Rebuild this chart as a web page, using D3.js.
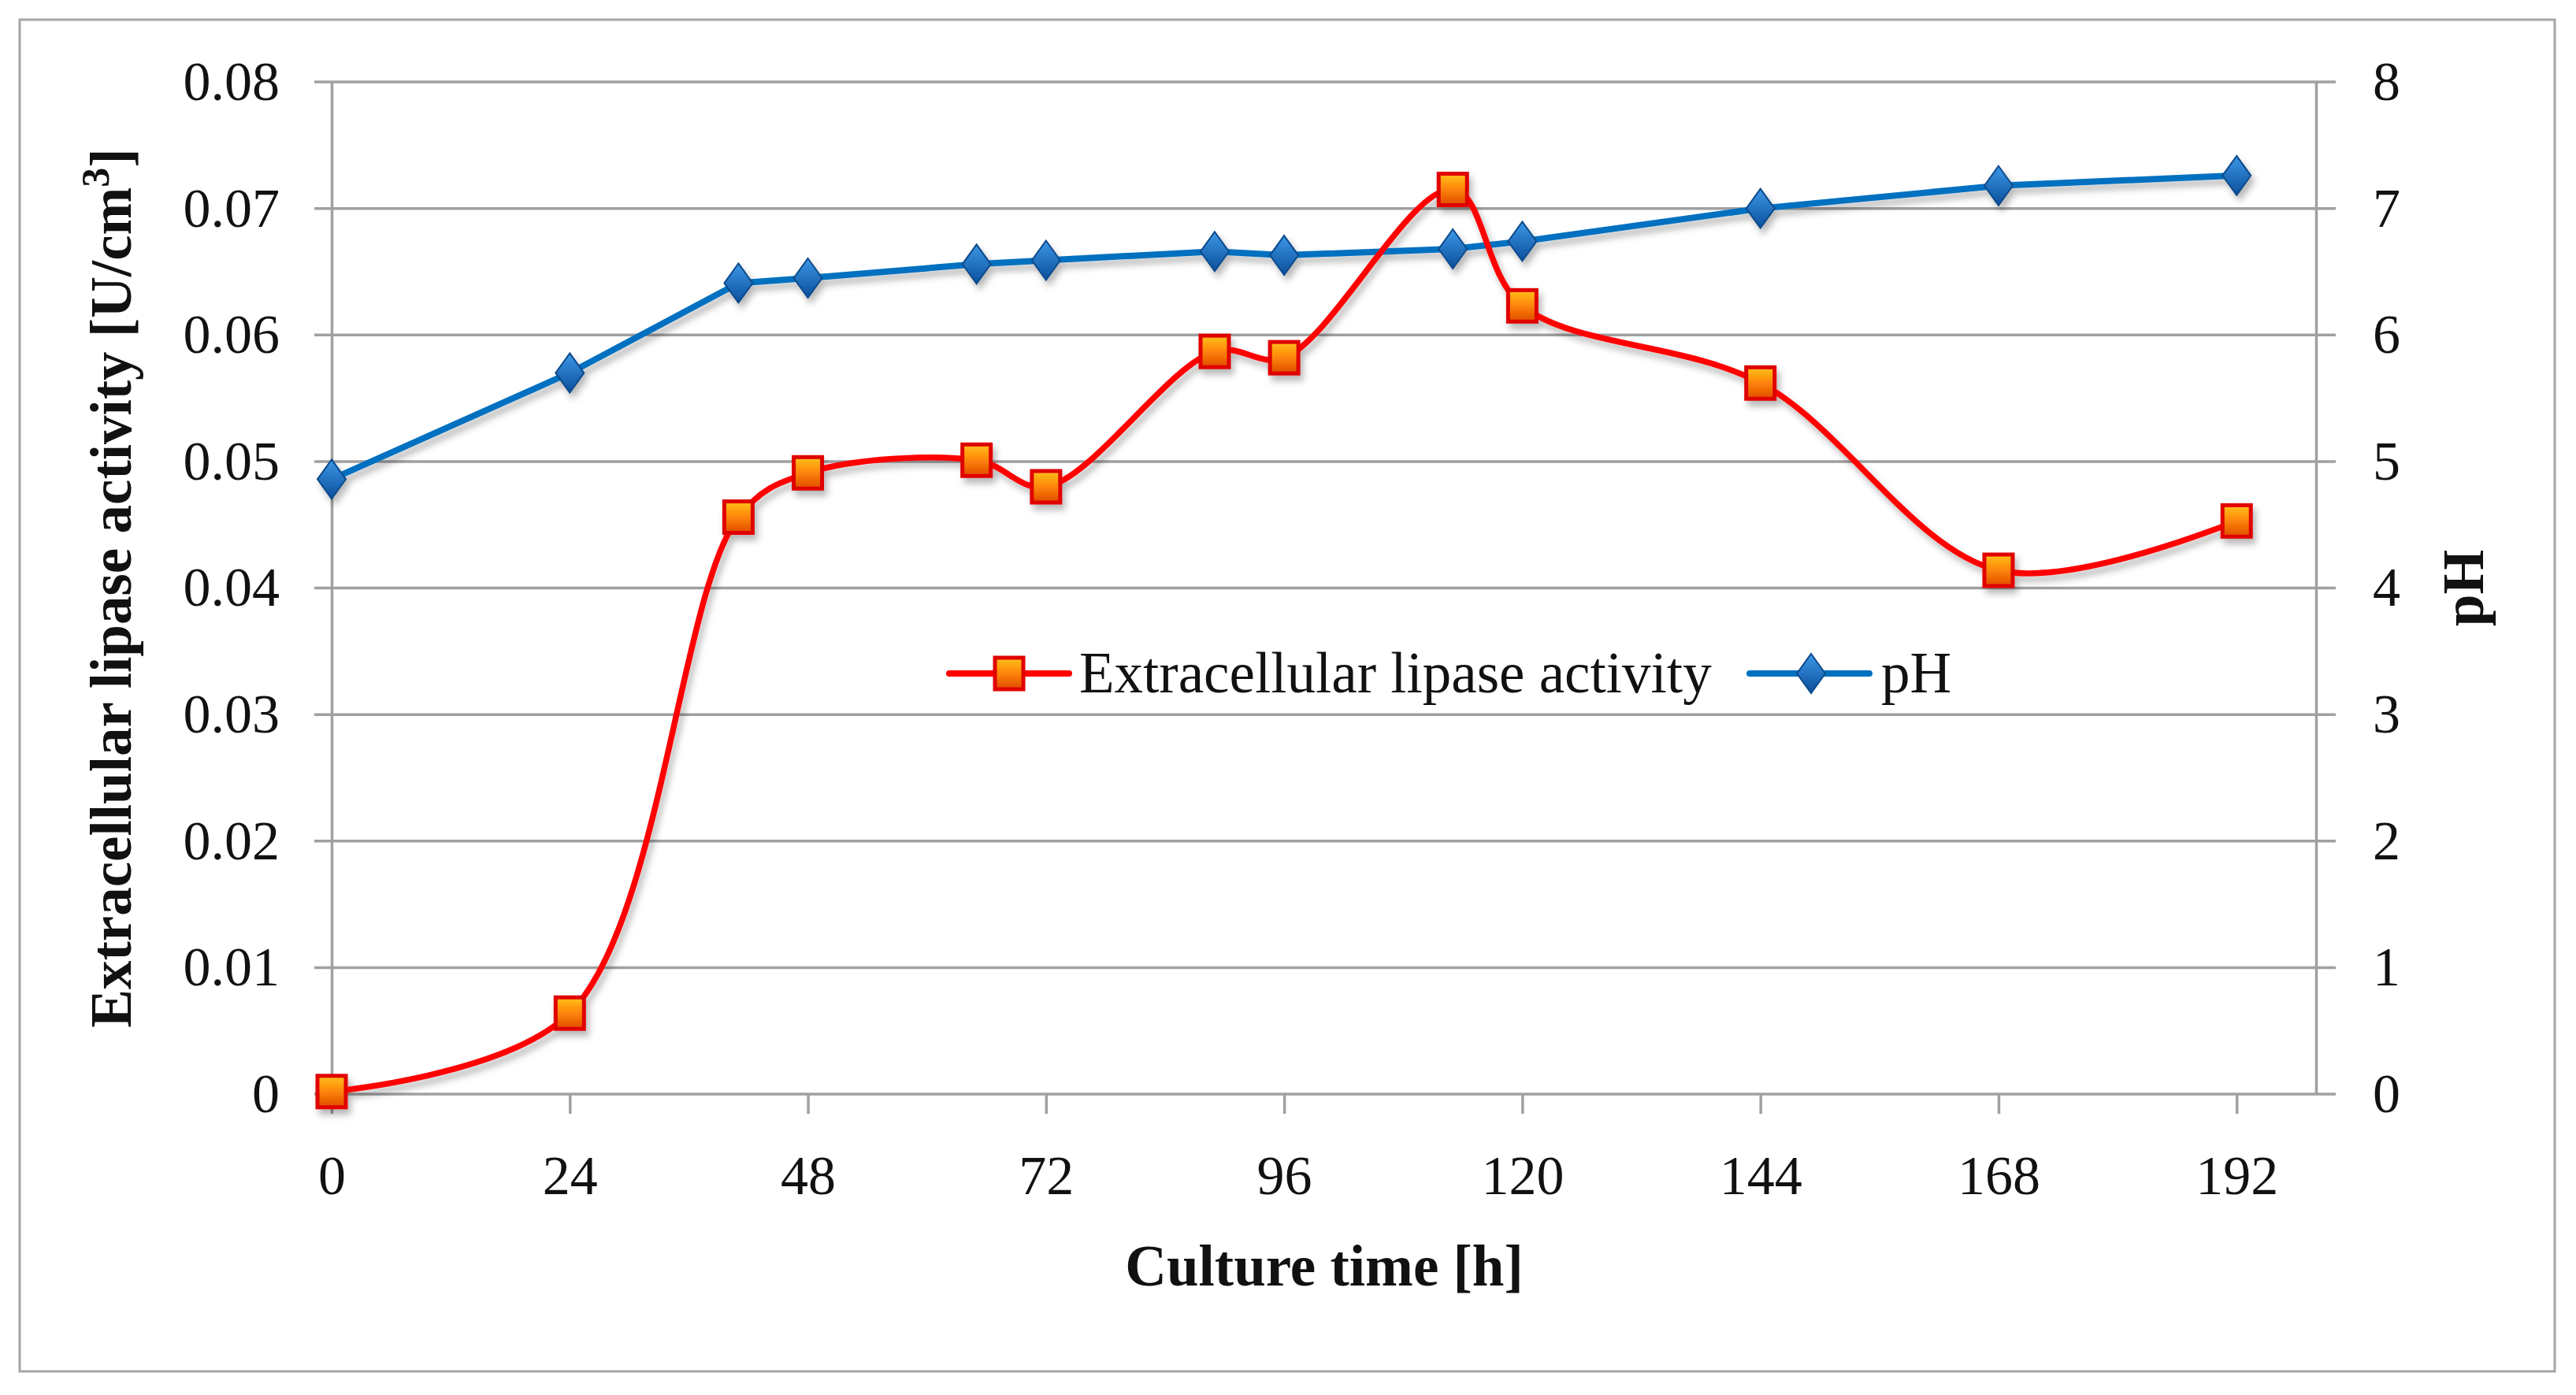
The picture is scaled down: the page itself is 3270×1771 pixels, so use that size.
<!DOCTYPE html>
<html>
<head>
<meta charset="utf-8">
<script src="https://cdn.jsdelivr.net/npm/d3@7"></script>
<style>
	html, body {margin: 0; padding: 0; background: #fff;}
	svg {display: block;}
	text {font-family: "Palatino Linotype", "Book Antiqua", Palatino, "Liberation Serif", serif; fill: #111;}
	.grid line {stroke: #a0a0a0; stroke-width: 3.5;}
	.axis path, .axis line {stroke: #a0a0a0; stroke-width: 3.5;}
	.axis text {font-size: 70px;}
	.title {font-size: 73px; font-weight: bold;}
	.legend text {font-size: 73px;}
</style>
</head>
<body>
<svg width="3270" height="1771"></svg>
<script>
// culture time [h]
let hours = [0, 24, 41, 48, 65, 72, 89, 96, 113, 120, 144, 168, 192];
// extracellular lipase activity [U/cm3]
let activity = [0.0002, 0.0064, 0.0456, 0.0491, 0.0501, 0.0480, 0.0587, 0.0582, 0.0715, 0.0623, 0.0562, 0.0414, 0.0453];
// pH
let ph = [4.86, 5.70, 6.41, 6.45, 6.56, 6.59, 6.66, 6.63, 6.68, 6.74, 7.00, 7.18, 7.26];

let xTicks = [0, 24, 48, 72, 96, 120, 144, 168, 192];
let leftTicks = [0, 0.01, 0.02, 0.03, 0.04, 0.05, 0.06, 0.07, 0.08];
let leftTickLabels = ["0", "0.01", "0.02", "0.03", "0.04", "0.05", "0.06", "0.07", "0.08"];
let rightTicks = [0, 1, 2, 3, 4, 5, 6, 7, 8];

let seriesNames = ["Extracellular lipase activity", "pH"];

let data = hours.map(function(h, i) {
	return {h: h, act: activity[i], ph: ph[i]};
});

let svgWidth = 3270;
let svgHeight = 1771;
let svg = d3.select("svg");
let margin = {top: 104, right: 330, bottom: 382, left: 421};
let width = svgWidth - margin.left - margin.right;
let height = svgHeight - margin.top - margin.bottom;

// chart frame
svg.append("rect")
	.attr("x", 25).attr("y", 25)
	.attr("width", 3218).attr("height", 1716)
	.attr("fill", "#fff")
	.attr("stroke", "#a6a6a6")
	.attr("stroke-width", 3);

let defs = svg.append("defs");
let shadow = defs.append("filter").attr("id", "shadow")
	.attr("x", "-20%").attr("y", "-20%").attr("width", "140%").attr("height", "140%");
shadow.append("feDropShadow")
	.attr("dx", 4).attr("dy", 7).attr("stdDeviation", 4)
	.attr("flood-color", "#000").attr("flood-opacity", 0.28);

let gradRed = defs.append("linearGradient").attr("id", "gradRed")
	.attr("x1", 0).attr("y1", 0).attr("x2", 0).attr("y2", 1);
gradRed.append("stop").attr("offset", "0%").attr("stop-color", "#ffc21a");
gradRed.append("stop").attr("offset", "45%").attr("stop-color", "#ff8a0a");
gradRed.append("stop").attr("offset", "100%").attr("stop-color", "#e04a00");

let gradBlue = defs.append("linearGradient").attr("id", "gradBlue")
	.attr("x1", 0).attr("y1", 0).attr("x2", 0).attr("y2", 1);
gradBlue.append("stop").attr("offset", "0%").attr("stop-color", "#3d97e6");
gradBlue.append("stop").attr("offset", "100%").attr("stop-color", "#0a4f9c");

let canvas = svg.append("g").attr("transform", "translate(" + margin.left + "," + margin.top + ")");

let xscale = d3.scaleLinear().domain([0, 200]).range([0, width]);
let yleft = d3.scaleLinear().domain([0, 0.08]).range([height, 0]);
let yright = d3.scaleLinear().domain([0, 8]).range([height, 0]);

//Gitterlinien
canvas.append("g")
	.attr("class", "grid")
	.selectAll("line")
	.data(leftTicks)
	.enter()
	.append("line")
		.attr("x1", -22)
		.attr("x2", width + 25)
		.attr("y1", function(d) {return yleft(d);})
		.attr("y2", function(d) {return yleft(d);});

let xaxis = d3.axisBottom(xscale)
	.tickValues(xTicks)
	.tickSize(25)
	.tickPadding(52)
	.tickSizeOuter(0);
let yaxisLeft = d3.axisLeft(yleft)
	.tickValues(leftTicks)
	.tickSize(0)
	.tickPadding(66)
	.tickFormat(function(d, i) {return leftTickLabels[i];});
let yaxisRight = d3.axisRight(yright)
	.tickValues(rightTicks)
	.tickSize(0)
	.tickPadding(72)
	.tickFormat(d3.format("d"));

canvas.append("g")
	.attr("class", "axis axis-x")
	.attr("transform", "translate(0," + height + ")")
	.call(xaxis);
canvas.append("g")
	.attr("class", "axis axis-y")
	.call(yaxisLeft);
canvas.append("g")
	.attr("class", "axis axis-y2")
	.attr("transform", "translate(" + width + ",0)")
	.call(yaxisRight);
canvas.selectAll(".axis-x path").remove();
canvas.selectAll(".axis text").attr("fill", "#111");

//Achsenbeschriftungen
canvas.append("text")
	.attr("class", "title")
	.attr("text-anchor", "middle")
	.attr("x", 1260)
	.attr("y", 1528)
	.text("Culture time [h]");
let ytitle = canvas.append("text")
	.attr("class", "title")
	.attr("text-anchor", "middle")
	.attr("transform", "translate(-255," + height / 2 + ")rotate(-90)");
ytitle.append("tspan").text("Extracellular lipase activity [U/cm");
ytitle.append("tspan").attr("baseline-shift", "super").attr("font-size", "50px").text("3");
ytitle.append("tspan").text("]");
canvas.append("text")
	.attr("class", "title")
	.attr("text-anchor", "middle")
	.attr("transform", "translate(" + (width + 212) + "," + height / 2 + ")rotate(-90)")
	.text("pH");

let lineRed = d3.line()
	.x(function(d) {return xscale(d.h);})
	.y(function(d) {return yleft(d.act);})
	.curve(d3.curveCatmullRom.alpha(0.5));
let lineBlue = d3.line()
	.x(function(d) {return xscale(d.h);})
	.y(function(d) {return yright(d.ph);});

let series = canvas.append("g").attr("filter", "url(#shadow)");

series.append("path")
	.datum(data)
	.attr("fill", "none")
	.attr("stroke", "#0070c0")
	.attr("stroke-width", 8)
	.attr("stroke-linejoin", "round")
	.attr("d", lineBlue);

series.selectAll(".diamond")
	.data(data)
	.enter()
	.append("path")
		.attr("class", "diamond")
		.attr("d", "M0,-25L18,0L0,25L-18,0Z")
		.attr("fill", "url(#gradBlue)")
		.attr("stroke", "#0b4a8a")
		.attr("stroke-width", 2)
		.attr("transform", function(d) {return "translate(" + xscale(d.h) + "," + yright(d.ph) + ")";});

series.append("path")
	.datum(data)
	.attr("fill", "none")
	.attr("stroke", "#ff0000")
	.attr("stroke-width", 7.5)
	.attr("d", lineRed);

series.selectAll(".square")
	.data(data)
	.enter()
	.append("rect")
		.attr("class", "square")
		.attr("x", function(d) {return xscale(d.h) - 18;})
		.attr("y", function(d) {return yleft(d.act) - 20;})
		.attr("width", 36)
		.attr("height", 40)
		.attr("fill", "url(#gradRed)")
		.attr("stroke", "#e00000")
		.attr("stroke-width", 5);

// Legende
let legend = canvas.append("g").attr("class", "legend").attr("transform", "translate(0,751)");
let legendItems = [
	{name: seriesNames[0], x0: 784, color: "#ff0000", textX: 949},
	{name: seriesNames[1], x0: 1800, color: "#0070c0", textX: 1967}
];
legend.selectAll("line")
	.data(legendItems)
	.enter()
	.append("line")
		.attr("x1", function(d) {return d.x0;})
		.attr("x2", function(d) {return d.x0 + 152;})
		.attr("y1", 0).attr("y2", 0)
		.attr("stroke", function(d) {return d.color;})
		.attr("stroke-width", 8)
		.attr("stroke-linecap", "round");
legend.append("rect")
	.attr("x", 784 + 76 - 18).attr("y", -20)
	.attr("width", 36).attr("height", 40)
	.attr("fill", "url(#gradRed)")
	.attr("stroke", "#e00000")
	.attr("stroke-width", 5);
legend.append("path")
	.attr("d", "M0,-25L18,0L0,25L-18,0Z")
	.attr("transform", "translate(" + (1800 + 78) + ",0)")
	.attr("fill", "url(#gradBlue)")
	.attr("stroke", "#0b4a8a")
	.attr("stroke-width", 2);
legend.selectAll("text")
	.data(legendItems)
	.enter()
	.append("text")
		.attr("x", function(d) {return d.textX;})
		.attr("y", 0)
		.attr("dy", "0.33em")
		.text(function(d) {return d.name;});
</script>
</body>
</html>
